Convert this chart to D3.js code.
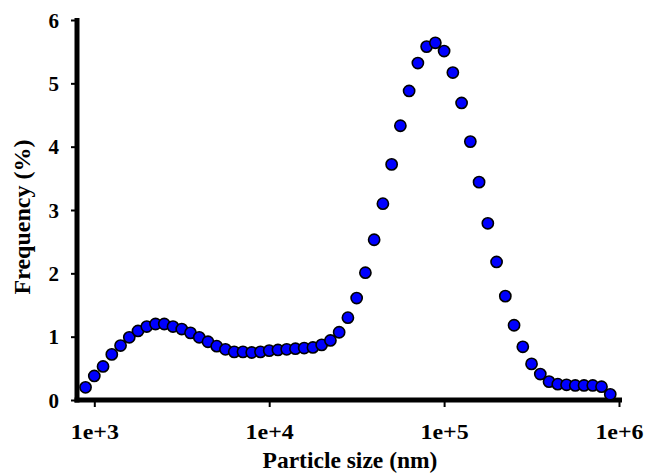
<!DOCTYPE html>
<html>
<head>
<meta charset="utf-8">
<script src="https://cdn.jsdelivr.net/npm/d3@7"></script>
<style>
  body { margin: 0; background: #fff; }
  text { font-family: "Liberation Serif", "Times New Roman", serif; font-weight: bold; fill: #000; }
</style>
</head>
<body>
<div class="chart"></div>
<script>
// particle size (nm)
const sizes = [891, 1000, 1122, 1259, 1413, 1585, 1778, 1995, 2239, 2512,
    2818, 3162, 3548, 3981, 4467, 5012, 5623, 6310, 7079, 7943,
    8913, 10000, 11220, 12589, 14125, 15849, 17783, 19953, 22387, 25119,
    28184, 31623, 35481, 39811, 44668, 50119, 56234, 63096, 70795, 79433,
    89125, 100000, 112202, 125893, 141254, 158489, 177828, 199526, 223872, 251189,
    281838, 316228, 354813, 398107, 446684, 501187, 562341, 630957, 707946, 794328,
    891251];

// frequency (%)
const freq = [0.20, 0.38, 0.53, 0.72, 0.86, 0.99, 1.09, 1.16, 1.20, 1.20,
    1.16, 1.12, 1.06, 0.99, 0.92, 0.85, 0.80, 0.76, 0.76, 0.75,
    0.76, 0.78, 0.79, 0.80, 0.81, 0.82, 0.83, 0.87, 0.94, 1.07,
    1.30, 1.61, 2.01, 2.53, 3.10, 3.72, 4.33, 4.88, 5.32, 5.58,
    5.64, 5.51, 5.17, 4.69, 4.08, 3.44, 2.79, 2.18, 1.64, 1.18,
    0.84, 0.57, 0.41, 0.29, 0.25, 0.24, 0.23, 0.23, 0.23, 0.21,
    0.09];

const xTicks = [1e3, 1e4, 1e5, 1e6];
const yTicks = [0, 1, 2, 3, 4, 5, 6];

const w = 645;
const h = 474;

const svg = d3.select('.chart')
    .append('svg')
    .attr('width', w)
    .attr('height', h);

const x = d3.scaleLog()
    .domain([1e3, 1e6])
    .range([94.3, 619]);

const y = d3.scaleLinear()
    .domain([0, 6])
    .range([400, 20]);

const yAxis = d3.axisLeft(y)
    .tickValues(yTicks)
    .tickSize(6)
    .tickPadding(12)
    .tickFormat(d3.format('d'));

const gy = svg.append('g')
    .attr('transform', 'translate(77,0)')
    .call(yAxis);
gy.select('.domain').remove();
gy.selectAll('.tick line').attr('stroke', '#000').attr('stroke-width', 2);
gy.selectAll('.tick text')
    .attr('font-size', 21)
    .attr('dy', '0.34em');

const xAxis = d3.axisBottom(x)
    .tickValues(xTicks)
    .tickSize(7)
    .tickFormat(d => '1e+' + Math.round(Math.log10(d)));

const gx = svg.append('g')
    .attr('transform', 'translate(0,400)')
    .call(xAxis);
gx.select('.domain').remove();
gx.selectAll('.tick line').attr('stroke', '#000').attr('stroke-width', 2);
gx.selectAll('.tick text')
    .attr('font-size', 21)
    .attr('y', 39)
    .attr('dy', 0)
    .attr('transform', 'scale(1.14,1)');

// thick axis lines
svg.append('line')
    .attr('x1', 77).attr('x2', 77)
    .attr('y1', 18).attr('y2', 402.5)
    .attr('stroke', '#000').attr('stroke-width', 5);
svg.append('line')
    .attr('x1', 74.5).attr('x2', 622)
    .attr('y1', 400).attr('y2', 400)
    .attr('stroke', '#000').attr('stroke-width', 5);

svg.selectAll('circle.dot')
    .data(sizes.map((s, i) => ({ size: s, f: freq[i] })))
    .enter()
    .append('circle')
    .attr('class', 'dot')
    .attr('cx', d => x(d.size))
    .attr('cy', d => y(d.f))
    .attr('r', 5.6)
    .attr('fill', '#0000ff')
    .attr('stroke', '#000')
    .attr('stroke-width', 1.6);

svg.append('text')
    .attr('x', 350)
    .attr('y', 468)
    .attr('text-anchor', 'middle')
    .attr('font-size', 23.5)
    .text('Particle size (nm)');

svg.append('text')
    .attr('transform', 'translate(30,217) rotate(-90)')
    .attr('text-anchor', 'middle')
    .attr('font-size', 24)
    .text('Frequency (%)');
</script>
</body>
</html>
